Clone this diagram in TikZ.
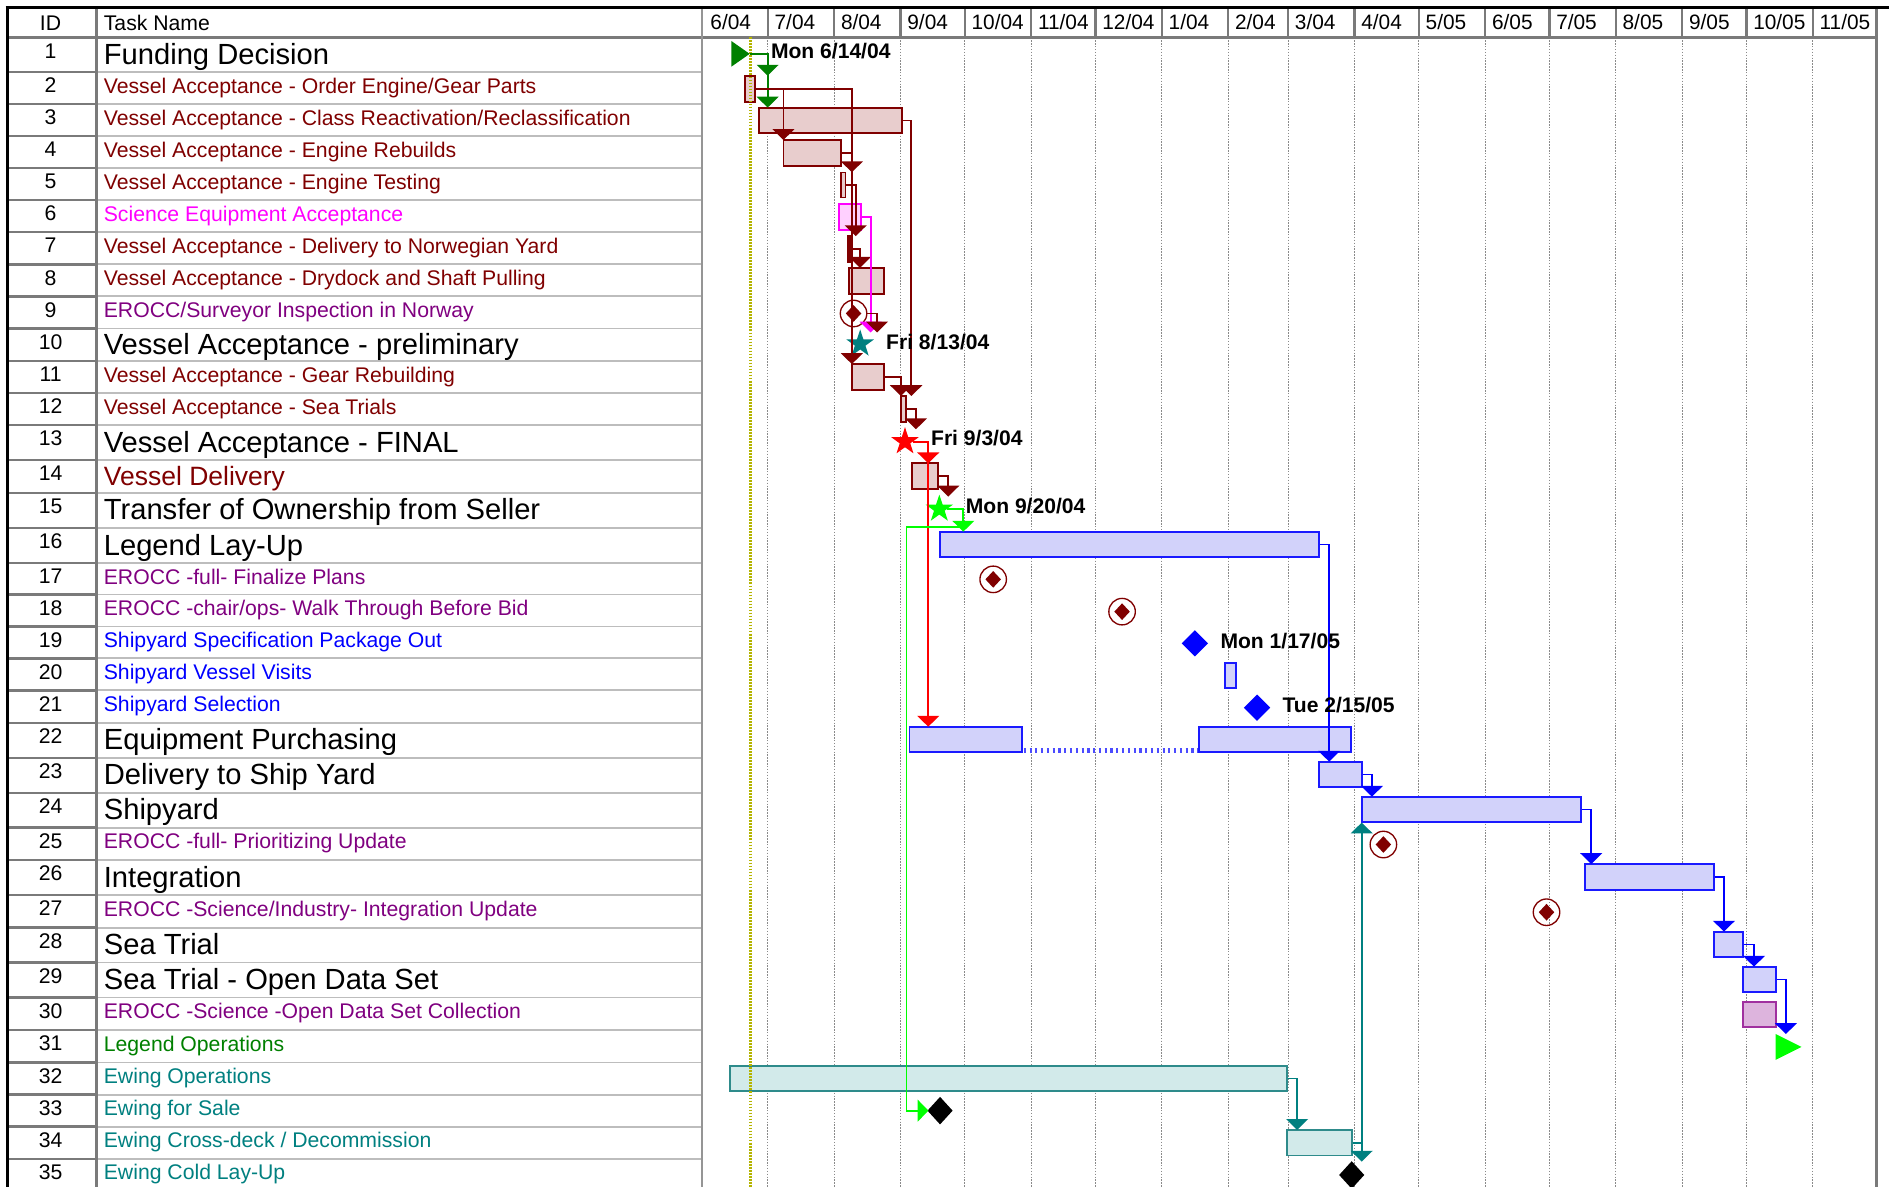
\documentclass[tikz,border=0pt]{standalone}
\usepackage{fontspec}
\setmainfont{Liberation Sans}
\usetikzlibrary{arrows.meta,shapes.geometric,fit}
\definecolor{mred}{HTML}{800000}
\definecolor{mredfill}{HTML}{E8CDCD}
\definecolor{magn}{HTML}{FF00FF}
\definecolor{magfill}{HTML}{FFD0FF}
\definecolor{purp}{HTML}{800080}
\definecolor{purpbar}{HTML}{A0309F}
\definecolor{purpfill}{HTML}{DDB4DD}
\definecolor{bblue}{HTML}{0000FF}
\definecolor{bbar}{HTML}{1A1AFF}
\definecolor{bluefill}{HTML}{D2D2FA}
\definecolor{ogreen}{HTML}{008000}
\definecolor{tteal}{HTML}{008080}
\definecolor{tealbar}{HTML}{2E8B8B}
\definecolor{tealfill}{HTML}{D2EAEA}
\definecolor{lgreen}{HTML}{00FF00}
\definecolor{rred}{HTML}{FF0000}
\definecolor{graySep}{HTML}{7A7A7A}
\definecolor{grayLt}{HTML}{BDBDBD}
\definecolor{grayGrid}{HTML}{8A8A8A}
\definecolor{ylw}{HTML}{B4B400}
\tikzset{
  idtxt/.style={anchor=base, inner sep=0pt, font=\fontsize{17.6}{20}\selectfont},
  smalltxt/.style={anchor=base west, inner sep=0pt, font=\fontsize{17.6}{20}\selectfont},
  bigtxt/.style={anchor=base west, inner sep=0pt, font=\fontsize{24.2}{28}\selectfont},
  midtxt/.style={anchor=base west, inner sep=0pt, font=\fontsize{22}{26}\selectfont},
  datelbl/.style={anchor=base west, inner sep=0pt, font=\fontsize{17.5}{20}\selectfont\bfseries},
  monlbl/.style={anchor=base west, inner sep=0pt, font=\fontsize{17.3}{20}\selectfont},
  sepid/.style={draw=graySep, line width=2pt},
  septn/.style={draw=grayLt, line width=1.5pt},
  gridl/.style={draw=grayGrid, line width=0.9pt, dash pattern=on 1.2pt off 1.2pt},
  hdiv/.style={draw=graySep, line width=2pt},
  barbase/.style={inner sep=0pt, line width=1.5pt},
  mbar/.style={barbase, draw=mred, fill=mredfill},
  gbarblue/.style={barbase, draw=bbar, fill=bluefill},
  tbar/.style={barbase, draw=tealbar, fill=tealfill},
  magbar/.style={barbase, draw=magn, fill=magfill},
  pbar/.style={barbase, draw=purpbar, fill=purpfill},
  lk/.style={line width=1.5pt, -{Triangle[length=9pt 0 0, width'=0pt 2]}},
  cmile/.style={circle, draw=mred, line width=1.1pt, minimum size=22pt, inner sep=0pt},
  cdia/.style={diamond, fill=mred, minimum width=13pt, minimum height=14pt, inner sep=0pt},
  bdia/.style={diamond, minimum width=22pt, minimum height=22pt, inner sep=0pt},
  mstar/.style={star, star points=5, star point ratio=2.6, minimum size=24pt, inner sep=0pt},
}
\newcommand\trow[6]{%
  \draw[sepid] (6,#3) -- (80,#3);
  \draw[septn] (80,#3) -- (583,#3);
  \node[idtxt] (id#1) at (42,#2+17.2) {#1};
  \node[#5] (tn#1) at (86,#2+#4) {#6};
}
\newcommand\gbar[6]{\node[#6, fit={(#2,#3) (#4,#5)}] (#1) {};}
\newcommand\cms[3]{\node[cmile] (#1) at (#2,#3) {}; \node[cdia] (#1d) at (#1) {};}
\begin{document}
\begin{tikzpicture}[x=1pt,y=-1pt]
\useasboundingbox (0,0) rectangle (1568,985);
\clip (0,0) rectangle (1568,985);
\fill[white] (0,0) rectangle (1568,985);

% month grid lines in chart
\foreach \x in {637.3,692.4,747.5,800.8,855.9,909.3,964.4,1019.5,1069.2,1124.3,1177.7,1232.8,1286.1,1341.2,1396.3,1449.6,1504.7}
  {\draw[gridl] (\x,31) -- (\x,990);
   \draw[hdiv] (\x,6) -- (\x,31);}

% table rows
\trow{1}{31}{59.8}{22.5}{bigtxt,text=black}{Funding Decision}
\trow{2}{59.8}{86.4}{17.4}{smalltxt,text=mred}{Vessel Acceptance - Order Engine/Gear Parts}
\trow{3}{86.4}{113}{17.4}{smalltxt,text=mred}{Vessel Acceptance - Class Reactivation/Reclassification}
\trow{4}{113}{139.6}{17.4}{smalltxt,text=mred}{Vessel Acceptance - Engine Rebuilds}
\trow{5}{139.6}{166.2}{17.4}{smalltxt,text=mred}{Vessel Acceptance - Engine Testing}
\trow{6}{166.2}{192.8}{17.4}{smalltxt,text=magn}{Science Equipment Acceptance}
\trow{7}{192.8}{219.4}{17.4}{smalltxt,text=mred}{Vessel Acceptance - Delivery to Norwegian Yard}
\trow{8}{219.4}{246}{17.4}{smalltxt,text=mred}{Vessel Acceptance - Drydock and Shaft Pulling}
\trow{9}{246}{272.6}{17.4}{smalltxt,text=purp}{EROCC/Surveyor Inspection in Norway}
\trow{10}{272.6}{299.8}{21.5}{bigtxt,text=black}{Vessel Acceptance - preliminary}
\trow{11}{299.8}{326.4}{17.4}{smalltxt,text=mred}{Vessel Acceptance - Gear Rebuilding}
\trow{12}{326.4}{353}{17.4}{smalltxt,text=mred}{Vessel Acceptance - Sea Trials}
\trow{13}{353}{382}{22.5}{bigtxt,text=black}{Vessel Acceptance - FINAL}
\trow{14}{382}{409}{21}{midtxt,text=mred}{Vessel Delivery}
\trow{15}{409}{438.5}{22.5}{bigtxt,text=black}{Transfer of Ownership from Seller}
\trow{16}{438.5}{467.5}{22.5}{bigtxt,text=black}{Legend Lay-Up}
\trow{17}{467.5}{493.5}{17.4}{smalltxt,text=purp}{EROCC -full- Finalize Plans}
\trow{18}{493.5}{520}{17.4}{smalltxt,text=purp}{EROCC -chair/ops- Walk Through Before Bid}
\trow{19}{520}{546.5}{17.4}{smalltxt,text=bblue}{Shipyard Specification Package Out}
\trow{20}{546.5}{573}{17.4}{smalltxt,text=bblue}{Shipyard Vessel Visits}
\trow{21}{573}{600}{17.4}{smalltxt,text=bblue}{Shipyard Selection}
\trow{22}{600}{629}{22.5}{bigtxt,text=black}{Equipment Purchasing}
\trow{23}{629}{658}{22.5}{bigtxt,text=black}{Delivery to Ship Yard}
\trow{24}{658}{687}{22.5}{bigtxt,text=black}{Shipyard}
\trow{25}{687}{714}{17.4}{smalltxt,text=purp}{EROCC -full- Prioritizing Update}
\trow{26}{714}{743}{22.5}{bigtxt,text=black}{Integration}
\trow{27}{743}{770}{17.4}{smalltxt,text=purp}{EROCC -Science/Industry- Integration Update}
\trow{28}{770}{799}{22.5}{bigtxt,text=black}{Sea Trial}
\trow{29}{799}{828}{22.5}{bigtxt,text=black}{Sea Trial - Open Data Set}
\trow{30}{828}{855}{17.4}{smalltxt,text=purp}{EROCC -Science -Open Data Set Collection}
\trow{31}{855}{882}{17.4}{smalltxt,text=ogreen}{Legend Operations}
\trow{32}{882}{908.6}{17.4}{smalltxt,text=tteal}{Ewing Operations}
\trow{33}{908.6}{935.2}{17.4}{smalltxt,text=tteal}{Ewing for Sale}
\trow{34}{935.2}{961.8}{17.4}{smalltxt,text=tteal}{Ewing Cross-deck / Decommission}
\trow{35}{961.8}{988.4}{17.4}{smalltxt,text=tteal}{Ewing Cold Lay-Up}

% header and borders
\draw[graySep, line width=2pt] (6,31) -- (1558,31);
\draw[graySep, line width=2pt] (80,6) -- (80,990);
\draw[graySep!80, line width=1.6pt] (583,6) -- (583,990);
\draw[graySep, line width=2.5pt] (1558,6) -- (1558,990);
\draw[black, line width=2.5pt] (6,6) -- (6,990);
\draw[black, line width=2.5pt] (4.75,6) -- (1568,6);
\node[idtxt] (hid) at (42,25.5) {ID};
\node[smalltxt] (htn) at (86,25.5) {Task Name};
\node[monlbl] (mo1) at (589.5,24.5) {6/04};
\node[monlbl] (mo2) at (642.8,24.5) {7/04};
\node[monlbl] (mo3) at (697.9,24.5) {8/04};
\node[monlbl] (mo4) at (753,24.5) {9/04};
\node[monlbl] (mo5) at (806.3,24.5) {10/04};
\node[monlbl] (mo6) at (861.4,24.5) {11/04};
\node[monlbl] (mo7) at (914.8,24.5) {12/04};
\node[monlbl] (mo8) at (969.9,24.5) {1/04};
\node[monlbl] (mo9) at (1025,24.5) {2/04};
\node[monlbl] (mo10) at (1074.7,24.5) {3/04};
\node[monlbl] (mo11) at (1129.8,24.5) {4/04};
\node[monlbl] (mo12) at (1183.2,24.5) {5/05};
\node[monlbl] (mo13) at (1238.3,24.5) {6/05};
\node[monlbl] (mo14) at (1291.6,24.5) {7/05};
\node[monlbl] (mo15) at (1346.7,24.5) {8/05};
\node[monlbl] (mo16) at (1401.8,24.5) {9/05};
\node[monlbl] (mo17) at (1455.1,24.5) {10/05};
\node[monlbl] (mo18) at (1510.2,24.5) {11/05};

% bars
\gbar{b2}{618.2}{62.8}{627}{84.5}{mbar}
\gbar{b3}{630.2}{89.5}{748.4}{110.6}{mbar}
\gbar{b4}{650.3}{116.2}{698.4}{137.6}{mbar}
\gbar{b5}{698}{143.2}{701.8}{163.9}{mbar}
\gbar{b6}{696.4}{169.4}{714.4}{190.8}{magbar}
\gbar{b7}{703.6}{196.2}{705.5}{217.3}{mbar}
\gbar{b8}{705}{222.3}{734.1}{243.8}{mbar}
\gbar{b11}{707}{302.4}{734}{324}{mbar}
\gbar{b12}{747.8}{328.7}{751.7}{350.5}{mbar}
\gbar{b14}{757.2}{384.6}{778.3}{405.9}{mbar}
\gbar{b16}{780.2}{441.3}{1095}{462.6}{gbarblue}
\gbar{b20}{1016.7}{550}{1025.9}{571.3}{gbarblue}
\gbar{b22a}{755}{603.2}{848}{624.5}{gbarblue}
\gbar{b22b}{995.1}{603.2}{1121.6}{624.5}{gbarblue}
\gbar{b23}{1095}{632.2}{1130.5}{653.5}{gbarblue}
\gbar{b24}{1130.5}{661.3}{1312.4}{682.6}{gbarblue}
\gbar{b26}{1315.8}{717.2}{1422.6}{738.6}{gbarblue}
\gbar{b28}{1422.6}{773.3}{1447}{794.6}{gbarblue}
\gbar{b29}{1447}{802.4}{1474.1}{823.7}{gbarblue}
\gbar{b30}{1447}{831.4}{1474.1}{852.7}{pbar}
\gbar{b32}{605.8}{884.8}{1068.2}{905.6}{tbar}
\gbar{b34}{1068.2}{937.9}{1122}{959.2}{tbar}
% split of row 22
\draw[bblue!70, line width=4pt, dash pattern=on 1.8pt off 3pt] (b22a.south east) ++(1,-2.6) -- ([yshift=2.6pt]b22b.south west);

% current date line
\draw[ylw, line width=1.8pt, dash pattern=on 1.5pt off 1pt] (622.9,31) -- (622.9,990);

% milestones
\fill[ogreen] (607,34) -- (607,55.4) -- (622.3,44.7) -- cycle;
\coordinate (m1) at (622.3,44.7);
\cms{m9}{708.5}{260.2}
\node[mstar, fill=tteal] (m10) at (714,285.5) {};
\node[mstar, fill=rred] (m13) at (751.2,366.6) {};
\node[mstar, fill=lgreen] (m15) at (779.7,422.5) {};
\cms{m17}{824.4}{480.9}
\cms{m18}{931.4}{507.7}
\node[bdia, fill=bblue] (m19) at (991.8,534) {};
\node[bdia, fill=bblue] (m21) at (1043.4,587.4) {};
\cms{m25}{1148.3}{701}
\cms{m27}{1283.7}{757.2}
\fill[lgreen] (1473.8,858.2) -- (1473.8,879.8) -- (1495.4,869) -- cycle;
\node[diamond, fill=black, minimum width=21pt, minimum height=23pt, inner sep=0pt] (m33) at (780.3,921.9) {};
\node[diamond, fill=black, minimum width=21pt, minimum height=23pt, inner sep=0pt] (m35) at (1122,975.3) {};

% link tips
\coordinate (t2) at (637.2,62.8);
\coordinate (t3) at (637.2,89.3);
\coordinate (t4) at (650.3,116.2);
\coordinate (t5) at (707.1,143.0);
\coordinate (t7) at (710.3,196.0);
\coordinate (t8) at (713.8,222.3);
\coordinate (t9m) at (722.7,276);
\coordinate (t9) at (728,276);
\coordinate (t11) at (707.1,302.2);
\coordinate (t12a) at (747.8,328.7);
\coordinate (t12b) at (756.5,328.7);
\coordinate (t13) at (760.3,356.3);
\coordinate (t14) at (770.5,384.6);
\coordinate (t15) at (787.1,412.2);
\coordinate (t16) at (799.6,441.3);
\coordinate (g1) at (799.6,437.7);
\coordinate (g2) at (752.5,921.9);
\coordinate (t33) at (770.7,921.9);
\coordinate (t22) at (770.5,603.2);
\coordinate (t23) at (1103.3,632.2);
\coordinate (t24) at (1138.8,661.3);
\coordinate (t26) at (1320.8,717.2);
\coordinate (t28) at (1431,773.3);
\coordinate (t29) at (1455.9,802.4);
\coordinate (t31) at (1482.4,858.3);
\coordinate (t34) at (1076.7,937.9);
\coordinate (t35) at (1130.3,964.2);
\coordinate (t24u) at (1130.3,682.8);

% links
\draw[lk, ogreen] (m1) -| (t2);
\draw[lk, ogreen] (m1) -| (t3);
\draw[lk, mred] (b2.east) -| (t4);
\draw[lk, mred] (b2.east) -| (t11);
\draw[lk, mred] (b4.east) -| (t5);
\draw[lk, mred] (b3.east) -| (t12b);
\draw[lk, mred] (b5.east) -| (t7);
\draw[lk, mred] (b7.east) -| (t8);
\draw[lk, magn] (b6.east) -| (t9m);
\draw[lk, mred] (m9.east) -| (t9);
\draw[lk, mred] (b11.east) -| (t12a);
\draw[lk, mred] (b12.east) -| (t13);
\draw[lk, rred] (m13.east) -| (t22);
\draw[lk, rred] (m13.east) -| (t14);
\draw[lk, mred] (b14.east) -| (t15);
\draw[lk, lgreen] (m15.east) -| (g1) -| (g2) -- (t33);
\draw[lk, lgreen] (m15.east) -| (t16);
\draw[lk, bblue] (b16.east) -| (t23);
\draw[lk, bblue] (b23.east) -| (t24);
\draw[lk, bblue] (b24.east) -| (t26);
\draw[lk, bblue] (b26.east) -| (t28);
\draw[lk, bblue] (b28.east) -| (t29);
\draw[lk, bblue] (b29.east) -| (t31);
\draw[lk, tteal] (b32.east) -| (t34);
\draw[lk, tteal] (b34.east) -| (t35);
\draw[lk, tteal] (b34.east) -| (t24u);

% date labels
\node[datelbl] (d1) at (639.8,48.3) {Mon 6/14/04};
\node[datelbl] (d10) at (735.4,289.9) {Fri 8/13/04};
\node[datelbl] (d13) at (772.7,370.1) {Fri 9/3/04};
\node[datelbl] (d15) at (801.5,426.3) {Mon 9/20/04};
\node[datelbl] (d19) at (1012.9,538.3) {Mon 1/17/05};
\node[datelbl] (d21) at (1064.4,591.3) {Tue 2/15/05};
\end{tikzpicture}
\end{document}
